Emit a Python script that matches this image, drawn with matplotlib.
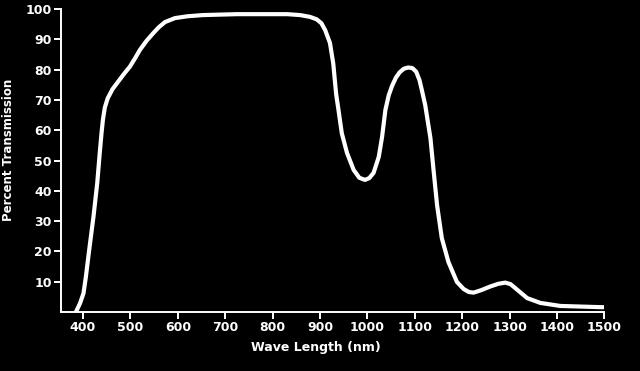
import matplotlib.pyplot as plt

# values
wavelength = [385, 394, 401, 406, 413, 422, 430, 435, 439, 442, 446, 452,
              462, 474, 486, 499, 510, 520, 534, 548, 560, 573, 594, 620,
              653, 725, 831, 858, 879, 893, 903, 911, 921, 928, 934, 939,
              946, 957, 971, 983, 995, 1004, 1013, 1024, 1031, 1038, 1045,
              1052, 1060, 1068, 1077, 1086, 1095, 1103, 1110, 1116, 1122,
              1133, 1140, 1147, 1157, 1171, 1189, 1203, 1214, 1224, 1240,
              1259, 1276, 1291, 1302, 1312, 1337, 1365, 1407, 1450, 1492, 1500]
transmission = [0, 3, 6.2, 11.6, 20.5, 31.4, 42.6, 52, 59, 63.5, 67.5, 70.5,
                73.5, 76, 78.5, 81, 83.8, 86.5, 89.5, 92, 94, 95.7, 97, 97.6,
                98, 98.3, 98.3, 98, 97.4, 96.6, 95.3, 93, 88.8, 82, 72, 66.7,
                59, 52.5, 46.9, 44.3, 43.6, 44.2, 45.9, 51.2, 57.8, 66.7, 71.5,
                74.6, 77.3, 79.1, 80.3, 80.7, 80.5, 79.3, 76.5, 72.5, 68.3,
                57.4, 46.2, 35.3, 24.4, 16.5, 9.9, 7.6, 6.6, 6.4, 7.2,
                8.4, 9.3, 9.7, 9.2, 7.9, 4.6, 3, 2, 1.8, 1.6, 1.6]
x_ticks = list(range(400, 1501, 100))
y_ticks = list(range(10, 101, 10))

fig = plt.figure(figsize=(6.4, 3.71), dpi=100, facecolor="black")
ax = fig.add_axes([0.0953, 0.159, 0.849, 0.8167], facecolor="black")

ax.plot(wavelength, transmission, color="white", lw=3.0,
        solid_capstyle="round", solid_joinstyle="round")

ax.set_xlim(353.5, 1500)
ax.set_ylim(0, 100)
ax.set_xticks(x_ticks)
ax.set_yticks(y_ticks)

for side in ["top", "right"]:
    ax.spines[side].set_visible(False)
for side in ["left", "bottom"]:
    ax.spines[side].set_color("white")
    ax.spines[side].set_linewidth(1.4)

ax.tick_params(colors="white", width=1.4, length=5, pad=1.5,
               labelsize=9)
for lab in ax.get_xticklabels() + ax.get_yticklabels():
    lab.set_fontweight("bold")

ax.set_xlabel("Wave Length (nm)", color="white", fontsize=9,
              fontweight="bold")
ax.set_ylabel("Percent Transmission", color="white", fontsize=8.5,
              fontweight="bold")
ax.xaxis.set_label_coords(0.47, -0.095)
ax.yaxis.set_label_coords(-0.084, 0.535)

fig.savefig("out.png", dpi=100, facecolor="black")
